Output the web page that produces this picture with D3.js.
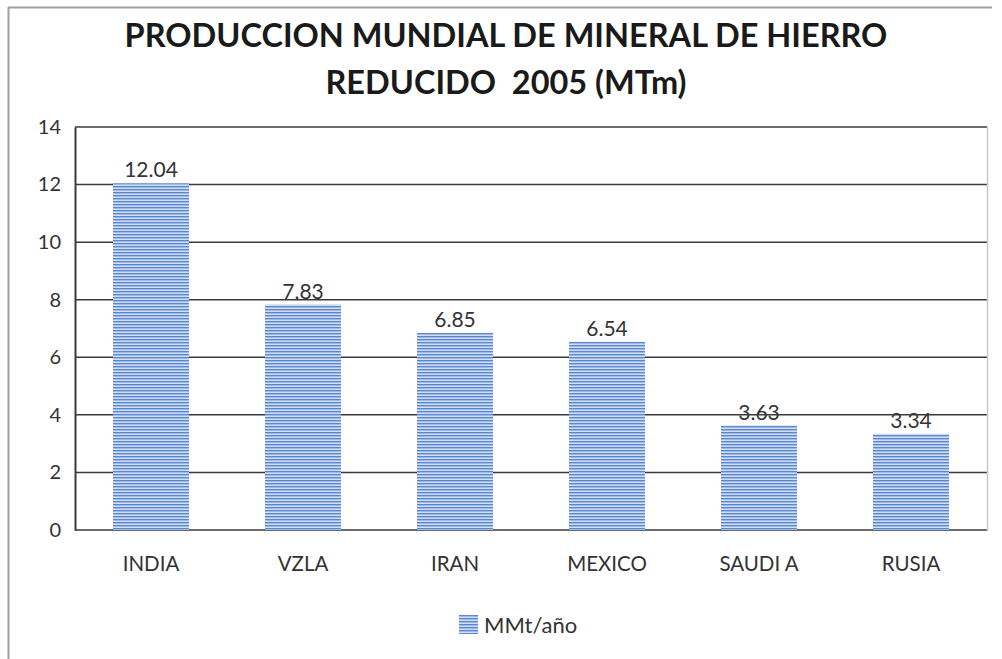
<!DOCTYPE html>
<html>
<head>
<meta charset="utf-8">
<script src="https://cdn.jsdelivr.net/npm/d3@7"></script>
<style>
  html, body { margin: 0; padding: 0; background: #fff; }
  svg { display: block; }
  text { font-family: Lato, "Open Sans", sans-serif; white-space: pre; }
</style>
</head>
<body>
<svg id="chart" width="1002" height="659"></svg>
<script>
// Iron ore reduction output by country, 2005 (MTm)
const categories = ["INDIA", "VZLA", "IRAN", "MEXICO", "SAUDI A", "RUSIA"];
const values = [12.04, 7.83, 6.85, 6.54, 3.63, 3.34];
const yTicks = [0, 2, 4, 6, 8, 10, 12, 14];
const seriesName = "MMt/año";
const titleLines = ["PRODUCCION MUNDIAL DE MINERAL DE HIERRO", "REDUCIDO  2005 (MTm)"];

const svg = d3.select("#chart");
const plot = { left: 75, right: 987, top: 127, bottom: 530 };

const x = d3.scaleBand().domain(categories).range([plot.left, plot.right]).paddingInner(0.5).paddingOuter(0.25);
const y = d3.scaleLinear().domain([0, 14]).range([plot.bottom, plot.top]);

// horizontal stripe fill
const defs = svg.append("defs");
const pat = defs.append("pattern").attr("id", "stripes")
  .attr("patternUnits", "userSpaceOnUse").attr("width", 8).attr("height", 3);
pat.append("rect").attr("width", 8).attr("height", 3).attr("fill", "#cfdcf1");
pat.append("rect").attr("y", 0).attr("width", 8).attr("height", 1.4).attr("fill", "#5a88d3");

// outer frame
svg.append("line").attr("x1", 8).attr("x2", 992).attr("y1", 7.5).attr("y2", 7.5)
  .attr("stroke", "#a0a0a0").attr("stroke-width", 2);
svg.append("line").attr("x1", 8.5).attr("x2", 8.5).attr("y1", 7).attr("y2", 659)
  .attr("stroke", "#a0a0a0").attr("stroke-width", 2);

// title
svg.append("g").selectAll("text").data(titleLines).join("text")
  .attr("x", 506).attr("y", (d, i) => 47 + i * 47)
  .attr("text-anchor", "middle")
  .attr("font-size", 32.5).attr("font-weight", "bold").attr("fill", "#1a1a1a")
  .text(d => d);

// value labels (drawn first so gridlines pass over them)
svg.append("g").selectAll("text").data(values).join("text")
  .attr("x", (d, i) => x(categories[i]) + x.bandwidth() / 2)
  .attr("y", d => y(d) - 6)
  .attr("text-anchor", "middle").attr("font-size", 21).attr("fill", "#333")
  .text(d => d.toFixed(2));

// gridlines
svg.append("g").selectAll("line").data(yTicks).join("line")
  .attr("x1", plot.left).attr("x2", plot.right)
  .attr("y1", d => y(d)).attr("y2", d => y(d))
  .attr("stroke", "#3a3a3a").attr("stroke-width", 1.5);

// right plot edge
svg.append("line").attr("x1", plot.right + 0.5).attr("x2", plot.right + 0.5)
  .attr("y1", plot.top).attr("y2", plot.bottom + 1)
  .attr("stroke", "#c8c8c8").attr("stroke-width", 1.5);

// bars
svg.append("g").selectAll("rect").data(values).join("rect")
  .attr("x", (d, i) => x(categories[i]))
  .attr("y", d => y(d))
  .attr("width", x.bandwidth())
  .attr("height", d => y(0) - y(d))
  .attr("fill", "url(#stripes)");

// y axis
const yAxis = d3.axisLeft(y).tickValues(yTicks).tickSize(0).tickPadding(14).tickFormat(d3.format("d"));
const gy = svg.append("g").attr("transform", `translate(${plot.left},0)`).call(yAxis);
gy.select(".domain").attr("stroke", "#3a3a3a").attr("stroke-width", 2);
gy.selectAll("text").attr("font-size", 20).attr("fill", "#333").attr("font-family", "Lato, sans-serif");

// x axis labels
const xAxis = d3.axisBottom(x).tickSize(0).tickPadding(26);
const gx = svg.append("g").attr("transform", `translate(0,${plot.bottom})`).call(xAxis);
gx.select(".domain").remove();
gx.selectAll("text").attr("font-size", 20.5).attr("fill", "#333").attr("font-family", "Lato, sans-serif");

// legend
const lg = svg.append("g").attr("transform", "translate(459,615)");
lg.append("rect").attr("width", 19).attr("height", 19).attr("fill", "url(#stripes)");
lg.append("text").attr("x", 25).attr("y", 18).attr("font-size", 22).attr("fill", "#333").text(seriesName);
</script>
</body>
</html>
